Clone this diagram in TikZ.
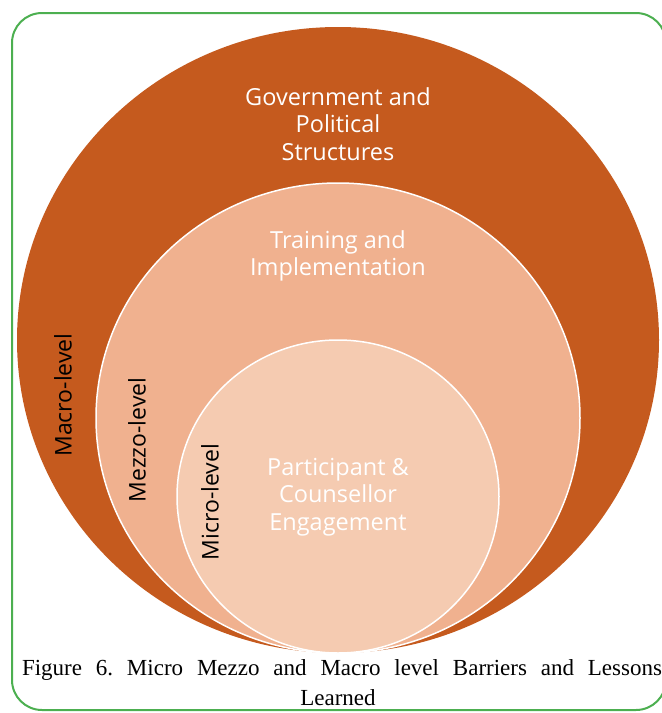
\documentclass[tikz,border=0pt]{standalone}
\usepackage{fontspec}
\setmainfont{Liberation Serif}
\newfontfamily\levelfont{Open Sans}
\usetikzlibrary{shapes.geometric}
\definecolor{macrofill}{RGB}{197,90,30}
\definecolor{mezzofill}{RGB}{240,177,143}
\definecolor{microfill}{RGB}{245,203,177}
\definecolor{framegreen}{RGB}{76,175,80}
\frenchspacing
\begin{document}
\begin{tikzpicture}[x=1pt,y=-1pt,
  ring/.style={ellipse, inner sep=0pt, outer sep=0pt, draw=white, line width=1.5pt},
  title/.style={font=\levelfont\fontsize{23.5}{27.5}\selectfont, text=white, align=center, inner sep=0pt},
  side/.style={font=\levelfont\fontsize{23}{25}\selectfont, text=black, rotate=90, inner sep=0pt},
  caption/.style={font=\fontsize{23}{30}\selectfont, inner sep=0pt, anchor=base}]
\useasboundingbox (0,0) rectangle (662,713);
\begin{scope}
\clip (0,0) rectangle (662,713);
% framing box, its right side runs past the edge
\draw[framegreen, line width=2pt, rounded corners=30pt] (12,13) rectangle (666,710);
\end{scope}
% nested levels, all touching at the bottom
\node[ring, fill=macrofill, draw=none, minimum width=642pt, minimum height=626pt] (macro) at (338,340) {};
\node[ring, fill=mezzofill, minimum width=484pt, minimum height=470pt] (mezzo) at (338,418) {};
\node[ring, fill=microfill, minimum width=322pt, minimum height=313pt] (micro) at (338,496.5) {};
% titles
\node[title] (gov) at (338,124) {Government and\\Political\\Structures};
\node[title] (train) at (338,256) {Training and\\Implementation};
\node[title] (part) at (338,497) {Participant \&\\Counsellor\\Engagement};
% side labels
\node[side] (macrolab) at (63,395) {Macro-level};
\node[side] (mezzolab) at (137,440) {Mezzo-level};
\node[side] (microlab) at (210,502) {Micro-level};
% caption
\node[caption] (cap1) at (342,675) {\makebox[640pt][s]{Figure 6. Micro Mezzo and Macro level Barriers and Lessons}};
\node[caption] (cap2) at (338,705) {Learned};
\end{tikzpicture}
\end{document}
